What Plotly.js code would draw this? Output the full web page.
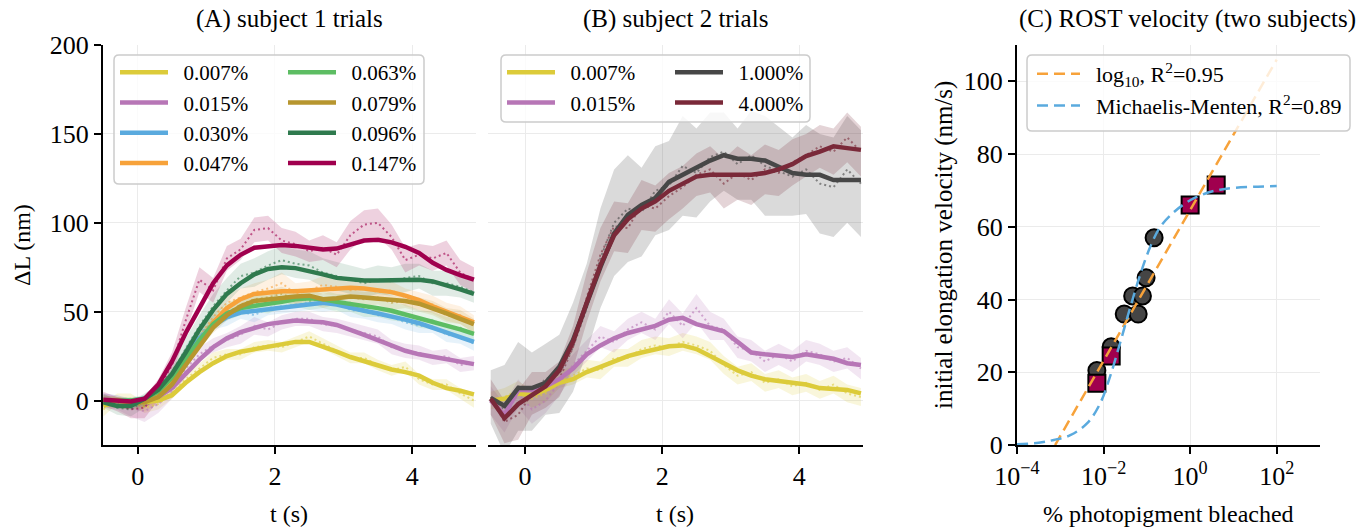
<!DOCTYPE html>
<html><head><meta charset="utf-8">
<script src="https://cdn.plot.ly/plotly-3.0.1.min.js"></script>
<style>html,body{margin:0;padding:0;background:#fff}</style>
</head><body><div id="chart" style="width:1361px;height:531px"></div>
<script>
// ---------------- DATA ----------------
const t = [-0.5,-0.3,-0.1,0.1,0.3,0.5,0.7,0.9,1.1,1.3,1.5,1.7,1.9,2.1,2.3,2.5,2.7,2.9,3.1,3.3,3.5,3.7,3.9,4.1,4.3,4.5,4.7,4.9];

// Subject 1 (panel A)
const A_labels = ['0.007%','0.015%','0.030%','0.047%','0.063%','0.079%','0.096%','0.147%'];
const A_smooth_007 = [-3,0,0,-1,0,3,10,16,21,25,27.5,29,30.5,32,33,33,30.5,27.5,24.5,22,19.5,17.5,16,14,10,7,5.5,3.5];
const A_raw_007    = [-5,1,1,-4,-2,4,12,18,24,26,26,30,31,30,33,36,32,28,24,24,20,17,19,12,9,9,4,0];
const A_sd_007     = [4,3,3,3,3,3,3,3,3,3,3,3,3,3,3,3,3,3,3,3,3,3,3,3,3,3,3,4];
const A_smooth_015 = [0,0,-1,0,2,7,15,23,30,35,38.5,41,43,44,45,44.5,44,42.5,40,37,34,31,28,26,24.5,23,21.5,20.5];
const A_raw_015    = [0,-1,-4,-6,-2,5,18,26,31,34,37,42,40,44,46,46,43,42,40,38,36,30,28,27,24,25,20,21];
const A_sd_015     = [4,4,5,6,5,4,4,4,4,4,5,5,4,4,4,4,4,4,4,4,4,4,4,4,4,4,4,4];
const A_smooth_030 = [0,0,0,1,5,14,25,35,42,47,49.5,50.5,51.5,52.5,53.5,54.5,55,54,52,50.5,49,47.5,45.5,43.5,41,38.5,35.5,33];
const A_raw_030    = [1,0,-2,0,4,12,27,38,44,46,50,48,52,53,54,55,54,55,51,50,48,47,44,42,42,37,36,32];
const A_sd_030     = [3,3,3,3,3,3,4,4,4,4,4,4,4,4,4,4,4,4,4,4,4,4,4,4,4,4,4,4];
const A_smooth_047 = [0,0,-1,0,3,10,21,33,44,52,57,60,61,61.5,61.5,62,63,63.5,63.5,63,62,61,59,56.5,53,50,47,44];
const A_raw_047    = [0,-1,-2,-1,2,11,24,36,47,55,58,61,63,66,60,62,65,64,62,63,61,62,58,56,54,50,48,43];
const A_sd_047     = [3,3,3,3,3,4,4,5,5,5,5,5,5,6,6,5,5,5,5,5,5,5,5,5,5,5,5,5];
const A_smooth_063 = [0,0,0,1,5,13,24,34,43,49,52,53.5,54.5,55.5,57,57.5,57,55.5,54.5,53.5,52,50.5,48.5,46.5,44.5,42.5,40,37.5];
const A_raw_063    = [0,-1,-1,0,4,14,26,36,45,50,53,55,54,57,58,56,57,55,55,52,52,50,49,46,45,42,41,37];
const A_sd_063     = [3,3,3,3,3,4,4,4,4,5,5,5,5,5,5,5,5,5,5,5,5,5,5,5,5,5,5,5];
const A_smooth_079 = [0,0,-1,-1,2,9,20,31,41,48,53,56,57,58,58.5,59,57,57.5,58.5,58,57.5,57,56,54.5,52,49,46,43];
const A_raw_079    = [0,-1,-2,-3,1,8,22,33,42,49,54,57,58,60,57,59,56,58,58,57,58,55,56,54,52,48,47,42];
const A_sd_079     = [3,3,3,3,3,4,4,4,4,4,4,4,4,4,4,4,4,4,4,4,4,4,4,4,4,4,4,4];
const A_smooth_096 = [-1,-3,-3,1,6,15,27,40,51,60,66,71,74,75,74.5,73,71,69,68,67.5,67.5,67.5,68,68,67,65,62.5,60];
const A_raw_096    = [0,-4,-5,0,5,16,29,42,53,62,70,72,76,79,77,76,72,70,68,66,68,67,69,70,66,66,64,61];
const A_sd_096     = [4,4,4,4,4,5,6,6,7,7,7,8,8,8,8,8,8,8,8,8,8,8,8,7,7,7,6,6];
const A_smooth_147 = [0.5,0,-0.5,1,9,22,38,52,66,76,82,86,87,87.5,87,86,85,85.5,88,90,90.5,89,86.5,83,77.5,73.5,70.5,68];
const A_raw_147    = [1,-2,-5,-4,6,20,45,68,62,80,85,96,97,90,88,84,86,82,93,99,100,92,79,82,80,83,72,68];
const A_sd_147     = [4,4,5,6,6,7,7,7,7,7,6,7,7,7,7,6,7,7,8,8,8,7,7,6,7,7,7,7];

// Subject 2 (panel B)
const B_labels = ['0.007%','0.015%','1.000%','4.000%'];
const B_smooth_007 = [0,1,4,3,6,10,12,16,19,22,25,27,28.5,30.5,31,29,25,21,17,14,12,11,10,9,7,6.5,6,4];
const B_raw_007    = [0,2,6,1,4,12,14,18,17,24,24,29,31,30,33,31,28,20,14,16,10,12,8,10,6,9,4,2];
const B_sd_007     = [5,5,5,5,5,5,5,5,5,5,5,5,5,5,5,5,5,5,5,5,5,5,5,5,5,5,5,5];
const B_smooth_015 = [0,-8,6,6,8,12,18,26,31,35,38,40,42,45.5,46.5,43,41,39,33,27,26,25.5,24.5,26,25,23.5,21,20];
const B_raw_015    = [0,-10,4,-5,0,10,20,28,36,33,40,44,40,50,42,52,42,40,30,28,22,26,22,28,26,22,24,18];
const B_sd_015     = [8,8,8,8,7,7,6,6,6,6,6,6,6,7,7,8,8,6,6,6,6,6,6,6,6,6,6,6];
const B_smooth_1000 = [1.5,-3,7,7,10,19,34,55,75,94,104.5,110,114,123,127,130.5,135,138,136,136,135,131.5,128,127,127,124,124,124];
const B_raw_1000    = [2,-5,8,5,12,15,30,52,80,100,108,106,118,121,132,128,137,140,133,138,132,129,126,130,122,120,130,122];
const B_sd_1000     = [15,25,25,22,20,22,25,25,28,30,30,25,25,25,28,25,25,22,20,25,28,25,22,25,28,28,30,30];
const B_smooth_4000 = [1,-10,-2,3,8,17,33,55,76,93,102,108,112,118,122,126,127,127,127,127,128,130,133,137.5,140,143,142,141];
const B_raw_4000    = [2,-12,-8,4,6,12,30,58,82,98,97,110,108,115,120,127,130,122,128,124,130,128,134,138,143,140,148,140];
const B_sd_4000     = [10,12,14,12,10,10,12,14,15,14,14,14,13,13,12,12,13,14,15,14,14,13,13,12,12,13,14,14];

// Panel C: ROST velocity
const C_s1_pct = [0.007,0.015,0.030,0.047,0.063,0.079,0.096,0.147];
const C_s1_vel = [20.5,27,36,41,36,41,46,57];
const C_s2_pct = [0.007,0.015,1.0,4.0];
const C_s2_vel = [17,24.5,66,71.5];
const C_logfit_x = [0.00076,100];
const C_logfit_y = [0,106];
const C_mmfit_x = [1e-4,3.16e-4,7.1e-4,1.7e-3,4.2e-3,8.3e-3,0.0141,0.024,0.0417,0.0708,0.12,0.204,0.417,1,2.4,4.9,10,28.8,100];
const C_mmfit_y = [0.2,0.6,1.4,2.7,6,11.4,18.8,28,38,47,54.5,60,64,67.3,69.3,70.2,70.7,71,71.2];
const C_legend = ['log<sub>10</sub>, R<sup>2</sup>=0.95','Michaelis-Menten, R<sup>2</sup>=0.89'];

// ---------------- STYLE ----------------
const FONT = 'Liberation Serif, Times New Roman, serif';
const W = 1361, H = 531;
const GAP = '\u2002';
const colA = {'0.007%':'#dccb3a','0.015%':'#b776b6','0.030%':'#5aaade','0.047%':'#f7a23a','0.063%':'#5dbd63','0.079%':'#b7962f','0.096%':'#2f7a4e','0.147%':'#a0004e'};
const colB = {'0.007%':'#dccb3a','0.015%':'#b776b6','1.000%':'#474747','4.000%':'#7a2939'};
function rgba(hex,a){const n=parseInt(hex.slice(1),16);return `rgba(${n>>16},${(n>>8)&255},${n&255},${a})`;}

const A_series = [
  [A_smooth_007,A_raw_007,A_sd_007],[A_smooth_015,A_raw_015,A_sd_015],[A_smooth_030,A_raw_030,A_sd_030],
  [A_smooth_047,A_raw_047,A_sd_047],[A_smooth_063,A_raw_063,A_sd_063],[A_smooth_079,A_raw_079,A_sd_079],
  [A_smooth_096,A_raw_096,A_sd_096],[A_smooth_147,A_raw_147,A_sd_147]];
const B_series = [
  [B_smooth_007,B_raw_007,B_sd_007],[B_smooth_015,B_raw_015,B_sd_015],
  [B_smooth_1000,B_raw_1000,B_sd_1000],[B_smooth_4000,B_raw_4000,B_sd_4000]];

const traces = [];
function addPanel(series, labels, cols, xa, ya, legendsOf, bandA){
  series.forEach((s,i)=>{
    const [sm,raw,sd]=s; const c=cols[labels[i]];
    traces.push({x:t.concat(t.slice().reverse()), y:raw.map((v,k)=>v+sd[k]).concat(raw.map((v,k)=>v-sd[k]).reverse()),
      xaxis:xa,yaxis:ya,type:'scatter',mode:'lines',fill:'toself',fillcolor:rgba(c,bandA[i]),line:{width:0,color:'rgba(0,0,0,0)'},showlegend:false,hoverinfo:'skip'});
  });
  series.forEach((s,i)=>{
    const c=cols[labels[i]];
    traces.push({x:t,y:s[1],xaxis:xa,yaxis:ya,type:'scatter',mode:'lines',line:{color:rgba(c,0.6),width:2,dash:'2px,3px'},showlegend:false,hoverinfo:'skip'});
  });
  series.forEach((s,i)=>{
    const c=cols[labels[i]];
    traces.push({x:t,y:s[0],xaxis:xa,yaxis:ya,type:'scatter',mode:'lines',name:GAP+labels[i],line:{color:c,width:4.5},legend:legendsOf(i)});
  });
}
addPanel(A_series, A_labels, colA, 'x','y', i=> i<4?'legend':'legend2', [0.18,0.18,0.15,0.15,0.15,0.15,0.15,0.18]);
addPanel(B_series, B_labels, colB, 'x2','y2', i=> i<2?'legend3':'legend4', [0.18,0.18,0.2,0.2]);

traces.push({x:C_s1_pct,y:C_s1_vel,xaxis:'x3',yaxis:'y3',type:'scatter',mode:'markers',marker:{symbol:'circle',size:17,color:'#454545',line:{color:'#000',width:2}},showlegend:false});
traces.push({x:C_s2_pct,y:C_s2_vel,xaxis:'x3',yaxis:'y3',type:'scatter',mode:'markers',marker:{symbol:'square',size:17,color:'#a0004e',line:{color:'#000',width:2}},showlegend:false});
traces.push({x:C_logfit_x,y:C_logfit_y,xaxis:'x3',yaxis:'y3',type:'scatter',mode:'lines',name:GAP+C_legend[0],line:{color:'#f7a23a',width:2.5,dash:'11px,6px'},legend:'legend5'});
traces.push({x:C_mmfit_x,y:C_mmfit_y,xaxis:'x3',yaxis:'y3',type:'scatter',mode:'lines',name:GAP+C_legend[1],line:{color:'#5aaade',width:2.5,dash:'11px,6px',shape:'spline'},legend:'legend5'});

// ---------------- LAYOUT ----------------
const px = v=>v/W, py = v=>1-v/H;
const tickfont = {family:FONT,size:26,color:'#000'};
const baseAx = {showline:true,linewidth:2,linecolor:'#000',ticks:'outside',ticklen:7,tickwidth:2,tickcolor:'#000',
  gridcolor:'#ebebeb',gridwidth:1,zeroline:false,tickfont:tickfont,fixedrange:true};
const ydom = [py(445), py(45)];
function legendAt(x,y,fs,iw){return {x:px(x),y:py(y),xanchor:'left',yanchor:'top',bgcolor:'rgba(0,0,0,0)',borderwidth:0,
  font:{family:FONT,size:fs,color:'#000'},itemwidth:iw,tracegroupgap:0};}
function rbox(x0,y0,x1,y1,r){
  const X=v=>px(v), Y=v=>py(v);
  return {type:'path',xref:'paper',yref:'paper',layer:'above',fillcolor:'rgba(255,255,255,0.8)',line:{color:'#cccccc',width:1.5},
    path:`M${X(x0+r)},${Y(y0)} L${X(x1-r)},${Y(y0)} Q${X(x1)},${Y(y0)} ${X(x1)},${Y(y0+r)} L${X(x1)},${Y(y1-r)} Q${X(x1)},${Y(y1)} ${X(x1-r)},${Y(y1)} L${X(x0+r)},${Y(y1)} Q${X(x0)},${Y(y1)} ${X(x0)},${Y(y1-r)} L${X(x0)},${Y(y0+r)} Q${X(x0)},${Y(y0)} ${X(x0+r)},${Y(y0)} Z`};
}
function ann(text,x,y,size,angle){return {text:text,x:px(x),y:py(y),xref:'paper',yref:'paper',showarrow:false,
  font:{family:FONT,size:size,color:'#000'},textangle:angle||0,xanchor:'center',yanchor:'middle'};}

const layout = {
  width:W,height:H,margin:{l:0,r:0,t:0,b:0},paper_bgcolor:'#fff',plot_bgcolor:'rgba(0,0,0,0)',
  font:{family:FONT,color:'#000'},hovermode:false,
  xaxis:Object.assign({},baseAx,{domain:[px(103),px(476)],range:[-0.505,4.93],tickvals:[0,2,4],anchor:'y'}),
  yaxis:Object.assign({},baseAx,{domain:ydom,range:[-25,200],tickvals:[0,50,100,150,200],anchor:'x'}),
  xaxis2:Object.assign({},baseAx,{domain:[px(488),px(863)],range:[-0.54,4.93],tickvals:[0,2,4],anchor:'y2'}),
  yaxis2:Object.assign({},baseAx,{domain:ydom,range:[-25,200],tickvals:[0,50,100,150,200],anchor:'x2',showline:false,ticks:'',showticklabels:false}),
  xaxis3:Object.assign({},baseAx,{domain:[px(1017),px(1320)],type:'log',range:[-4,3],tickvals:[1e-4,1e-2,1,100],
    ticktext:['10<sup>−4</sup>','10<sup>−2</sup>','10<sup>0</sup>','10<sup>2</sup>'],anchor:'y3'}),
  yaxis3:Object.assign({},baseAx,{domain:ydom,range:[0,110],tickvals:[0,20,40,60,80,100],anchor:'x3'}),
  legend:legendAt(115,52,21,48), legend2:legendAt(283,52,21,48), legend3:legendAt(502,52,21,48), legend4:legendAt(670,52,21,48),
  legend5:legendAt(1032,53,22,43),
  shapes:[rbox(114,55,424,184,5), rbox(501,55,810,122,5), rbox(1027,55,1350,131,5)],
  annotations:[
    ann('(A) subject 1 trials',289,19,25), ann('(B) subject 2 trials',675,19,25), ann('(C) ROST velocity (two subjects)',1187,19,25),
    ann('t (s)',289,514,24), ann('t (s)',675,514,24), ann('% photopigment bleached',1168,514,24),
    ann('ΔL (nm)',22,245,24,-90), ann('initial elongation velocity (nm/s)',944,245,25,-90)
  ]
};
Plotly.newPlot('chart',traces,layout,{displayModeBar:false,staticPlot:true});
</script></body></html>
